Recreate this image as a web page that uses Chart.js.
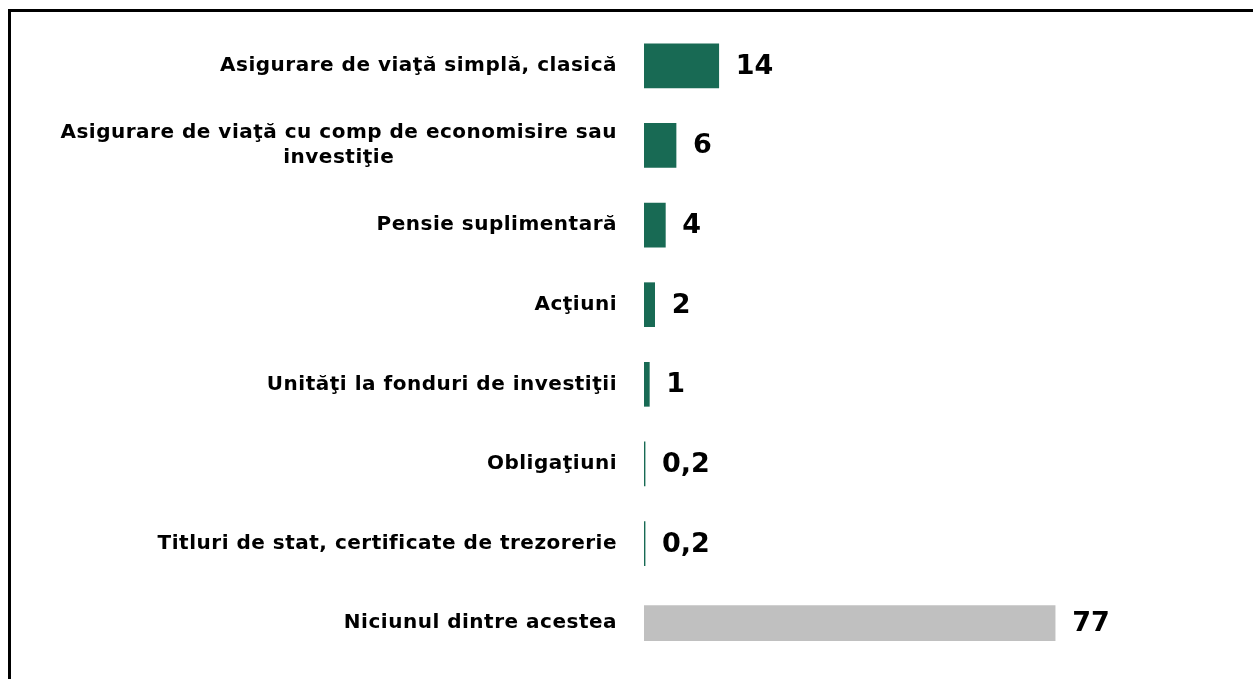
<!DOCTYPE html>
<html>
<head>
<meta charset="utf-8">
<script src="https://cdn.jsdelivr.net/npm/chart.js@4.4.1/dist/chart.umd.min.js"></script>
<style>
  html, body { margin: 0; padding: 0; background: #fff; overflow: hidden; }
  #wrap { position: relative; width: 1253px; height: 679px; overflow: hidden; }
  #frame { position: absolute; left: 8px; top: 9px; width: 2000px; height: 2000px; border: 3px solid #000; box-sizing: border-box; }
  canvas { position: absolute; left: 0; top: 0; }
</style>
</head>
<body>
<div id="wrap">
  <div id="frame"></div>
  <canvas id="c" width="1253" height="679"></canvas>
</div>
<script>
const categories = [
  ["Asigurare de viaţă simplă, clasică"],
  ["Asigurare de viaţă cu comp de economisire sau", "investiţie"],
  ["Pensie suplimentară"],
  ["Acţiuni"],
  ["Unităţi la fonduri de investiţii"],
  ["Obligaţiuni"],
  ["Titluri de stat, certificate de trezorerie"],
  ["Niciunul dintre acestea"]
];
const values = [14, 6, 4, 2, 1, 0.2, 0.2, 77];
const isNone = [false, false, false, false, false, false, false, true];

const GREEN = '#186a54';
const GREY = '#c0c0c0';

const greenData = values.map((v, i) => isNone[i] ? null : v);
const greyData = values.map((v, i) => isNone[i] ? v : null);

const labelPlugin = {
  id: 'labelPlugin',
  afterDatasetsDraw(chart) {
    const ctx = chart.ctx;
    const yScale = chart.scales.y;
    const area = chart.chartArea;
    ctx.save();
    // category labels
    ctx.fillStyle = '#000';
    ctx.font = 'bold 20px "DejaVu Sans"';
    try { ctx.letterSpacing = '0.5px'; } catch (e) {}
    ctx.textBaseline = 'middle';
    const rightX = area.left - 27;
    const lineH = 25;
    categories.forEach((lines, i) => {
      const cy = yScale.getPixelForValue(i);
      const n = lines.length;
      const firstW = ctx.measureText(lines[0]).width;
      lines.forEach((line, j) => {
        const y = cy + (j - (n - 1) / 2) * lineH;
        if (j === 0) {
          ctx.textAlign = 'right';
          ctx.fillText(line, rightX, y);
        } else {
          ctx.textAlign = 'center';
          ctx.fillText(line, rightX - firstW / 2, y);
        }
      });
    });
    // value labels
    try { ctx.letterSpacing = '0px'; } catch (e) {}
    ctx.font = 'bold 27px "DejaVu Sans"';
    ctx.textAlign = 'left';
    chart.data.datasets.forEach((ds, di) => {
      const meta = chart.getDatasetMeta(di);
      meta.data.forEach((el, i) => {
        const v = ds.data[i];
        if (v === null || v === undefined) return;
        const txt = String(v).replace('.', ',');
        ctx.fillText(txt, el.x + 17, el.y + 1);
      });
    });
    ctx.restore();
  }
};

new Chart(document.getElementById('c'), {
  type: 'bar',
  data: {
    labels: categories.map(l => l.join(' ')),
    datasets: [
      { data: greenData, backgroundColor: GREEN, barThickness: 44, grouped: false, borderWidth: 0 },
      { data: greyData, backgroundColor: GREY, barThickness: 35, grouped: false, borderWidth: 0 }
    ]
  },
  options: {
    indexAxis: 'y',
    responsive: false,
    animation: false,
    devicePixelRatio: 1,
    layout: { padding: { left: 644, right: 11, top: 26, bottom: 16 } },
    plugins: { legend: { display: false }, tooltip: { enabled: false }, title: { display: false } },
    scales: {
      x: { display: false, min: 0, max: 112 },
      y: { display: false }
    }
  },
  plugins: [labelPlugin]
});
</script>
</body>
</html>
